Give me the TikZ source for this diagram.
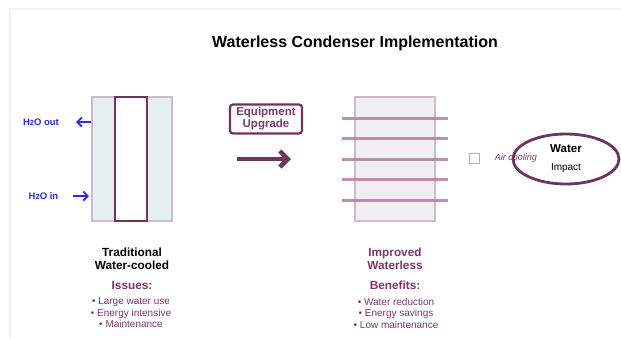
\documentclass[tikz,border=0pt]{standalone}
\usepackage{fontspec}
\setmainfont{Liberation Sans}
\usetikzlibrary{arrows.meta,shapes.geometric}
\definecolor{plum}{HTML}{6E3656}
\definecolor{plumtext}{HTML}{7A3A68}
\definecolor{plumlight}{HTML}{CDBBCB}
\definecolor{plumbar}{HTML}{B47D9C}
\definecolor{iceblue}{HTML}{E4F0F4}
\definecolor{mist}{HTML}{EFEFF2}
\definecolor{waterblue}{HTML}{2B2BEE}
\definecolor{frame}{HTML}{F3F2EA}
\begin{document}
\begin{tikzpicture}[x=1pt,y=-1pt,
    shell/.style={draw=plumlight,line width=2pt},
    tube/.style={draw=plum,line width=1.8pt,fill=white},
    fin/.style={draw=plumbar,line width=3pt,opacity=0.85},
    flow/.style={waterblue,line width=1.8pt,-{Straight Barb[length=4.5pt,width=9pt]}},
    flowlabel/.style={text=waterblue,font=\fontsize{9.5}{11}\selectfont\bfseries,inner sep=0pt},
    heading/.style={font=\fontsize{11.8}{13}\selectfont\bfseries,align=center,inner sep=0pt},
    itemlist/.style={text=plumtext,font=\fontsize{10}{11.5}\selectfont,align=center,inner sep=0pt}]

    \useasboundingbox (0,0) rectangle (621,338);
    \draw[frame,line width=1.5pt] (10,338) -- (10,9) -- (621,9);

    \node[font=\fontsize{16}{19}\selectfont\bfseries] (title) at (355,43) {Waterless Condenser Implementation};

    % traditional condenser
    \draw[shell,fill=iceblue] (92,97) rectangle (172,221);
    \draw[tube] (115,97) rectangle (147,221);
    \node[flowlabel] (h2oout) at (41,122) {H{\fontsize{7.5}{8}\selectfont 2}O out};
    \node[flowlabel] (h2oin) at (43.5,196) {H{\fontsize{7.5}{8}\selectfont 2}O in};
    \coordinate (outstart) at (91,122);
    \coordinate (outend) at (76,122);
    \coordinate (instart) at (73,196);
    \coordinate (inend) at (89,196);
    \draw[flow] (outstart) -- (outend);
    \draw[flow] (instart) -- (inend);

    % upgrade step
    \node[draw=plum,line width=2.2pt,rounded corners=3pt,text=plumtext,
          font=\fontsize{11.5}{12}\selectfont\bfseries,align=center,
          minimum width=72pt,minimum height=29pt,inner sep=1pt] (upgrade) at (266,119) {Equipment\\Upgrade};
    \coordinate (arrstart) at (237,159);
    \coordinate (arrend) at (291,159);
    \draw[plum,line width=4.5pt,-{Straight Barb[length=8pt,width=16pt]}] (arrstart) -- (arrend);

    % waterless condenser
    \draw[shell,fill=mist] (355,97) rectangle (435,221);
    \foreach \y in {118,138.5,159,179.5,200}
        \draw[fin] (342,\y) -- (448,\y);

    % air cooling + impact
    \node[draw=black!30,line width=0.8pt,minimum size=10pt,inner sep=0pt] (icon) at (474,158) {};
    \node[text=plumtext,font=\fontsize{9}{10}\selectfont\itshape,inner sep=0pt] (air) at (516,158) {Air cooling};
    \node[ellipse,draw=plum,line width=2.8pt,minimum width=106pt,minimum height=50pt] (impact) at (566,159) {};
    \node[font=\fontsize{11.5}{13}\selectfont\bfseries,inner sep=0pt] (water) at (566,149) {Water};
    \node[font=\fontsize{10}{12}\selectfont,inner sep=0pt] (imp) at (566,168) {Impact};

    % captions
    \node[heading] (trad) at (132,259) {Traditional\\Water-cooled};
    \node[heading,text=plumtext] (issues) at (132,285) {Issues:};
    \node[itemlist] (issuelist) at (131,313) {• Large water use\\• Energy intensive\\• Maintenance};

    \node[heading,text=plumtext] (impr) at (395,259) {Improved\\Waterless};
    \node[heading,text=plumtext] (benefits) at (395,285) {Benefits:};
    \node[itemlist] (benefitlist) at (396,313) {• Water reduction\\• Energy savings\\• Low maintenance};
\end{tikzpicture}
\end{document}
